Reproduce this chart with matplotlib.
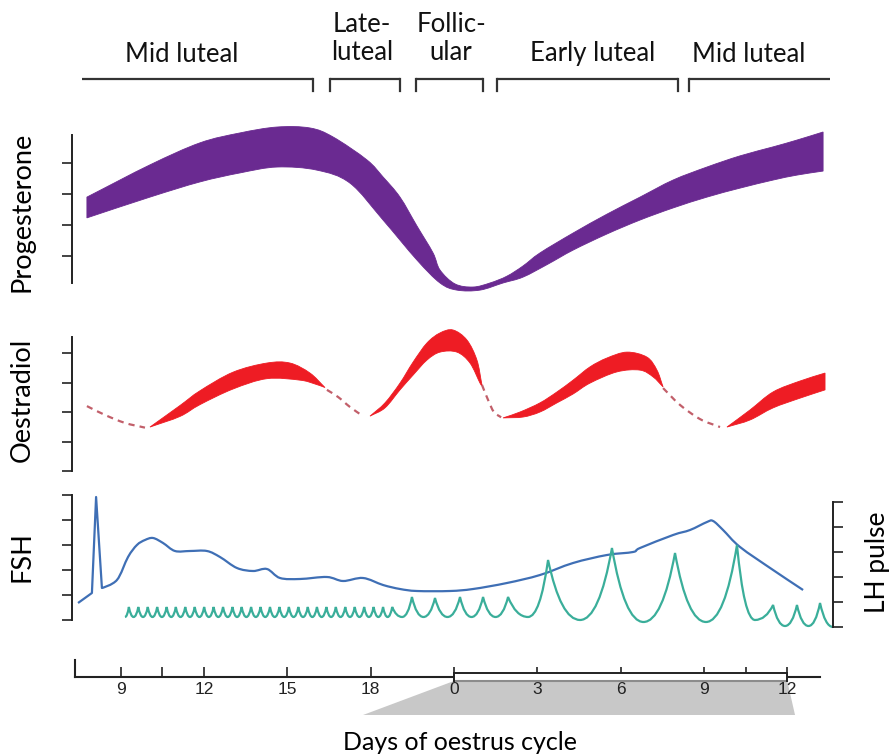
import numpy as np
import matplotlib.pyplot as plt
from matplotlib.path import Path
from matplotlib.patches import PathPatch, Rectangle, Polygon

plt.rcParams['font.family'] = ['Lato', 'DejaVu Sans']

# running day axis: 9..21 = late part of previous cycle, 21 = day 0 of new cycle
tick_pos = [9, 10.5, 12, 15, 18, 21, 24, 27, 30, 31.5, 33]
tick_lab = ["9", "", "12", "15", "18", "0", "3", "6", "9", "", "12"]

phase_names = ["Mid luteal", "Late-\nluteal", "Follic-\nular", "Early luteal", "Mid luteal"]
phase_start = [7.6, 16.55, 19.64, 22.55, 29.46]
phase_end = [15.93, 19.06, 22.05, 29.06, 34.54]

# progesterone band (upper / lower edge)
prog_up_t = [7.79, 10.06, 11.86, 13.30, 14.63, 15.82, 16.65, 17.87, 18.45, 19.06, 19.67, 20.25, 20.50, 21.04,
             21.69, 22.30, 22.91, 23.49, 24.10, 25.29, 26.51, 27.70, 28.89, 30.11, 31.30, 32.49, 33.35, 34.29]
prog_up_v = [2.90, 3.94, 4.65, 4.97, 5.16, 5.13, 4.84, 4.10, 3.55, 2.90, 1.97, 1.10, 0.55, 0.10,
             0.0, 0.13, 0.35, 0.68, 1.10, 1.74, 2.35, 2.90, 3.45, 3.87, 4.23, 4.52, 4.74, 5.0]
prog_lo_t = [7.79, 10.06, 11.86, 13.30, 14.63, 16.07, 17.26, 18.45, 19.67, 20.50, 21.11, 21.94,
             22.77, 23.49, 24.39, 25.29, 26.51, 27.70, 28.89, 30.11, 31.30, 32.49, 33.35, 34.29]
prog_lo_v = [2.23, 2.90, 3.39, 3.68, 3.87, 3.77, 3.35, 2.16, 0.87, 0.13, -0.10, -0.10,
             0.13, 0.32, 0.74, 1.19, 1.71, 2.16, 2.55, 2.90, 3.19, 3.45, 3.61, 3.74]

# oestradiol: dashed (low) stretches and filled bands
oe_dash1_t = [7.79, 8.44, 9.16, 9.88]
oe_dash1_v = [2.20, 1.90, 1.63, 1.47]
oe_dash2_t = [16.43, 16.83, 17.26, 17.73]
oe_dash2_v = [2.75, 2.51, 2.17, 1.86]
oe_dash3_t = [22.01, 22.23, 22.44, 22.70]
oe_dash3_v = [2.92, 2.41, 2.00, 1.82]
oe_dash4_t = [28.53, 29.14, 29.86, 30.58]
oe_dash4_v = [2.81, 2.24, 1.76, 1.49]

oe_b1_up_t = [10.06, 11.14, 11.86, 13.05, 14.27, 15.10, 15.82, 16.36]
oe_b1_up_v = [1.49, 2.22, 2.72, 3.35, 3.66, 3.66, 3.32, 2.83]
oe_b1_lo_t = [10.06, 11.14, 11.86, 13.05, 14.27, 15.46, 16.00, 16.36]
oe_b1_lo_v = [1.49, 1.85, 2.25, 2.78, 3.13, 3.08, 2.95, 2.83]
oe_b2_up_t = [17.98, 18.52, 19.06, 19.53, 20.03, 20.50, 20.97, 21.47, 21.83, 22.01]
oe_b2_up_v = [1.86, 2.31, 2.98, 3.69, 4.34, 4.68, 4.78, 4.44, 3.76, 2.92]
oe_b2_lo_t = [17.98, 18.52, 19.06, 19.53, 20.03, 20.50, 21.11, 21.58, 21.94, 22.01]
oe_b2_lo_v = [1.86, 2.14, 2.75, 3.25, 3.76, 4.03, 4.03, 3.66, 2.98, 2.92]
oe_b3_up_t = [22.77, 23.38, 24.10, 24.71, 25.29, 25.90, 26.51, 27.23, 27.95, 28.31, 28.53]
oe_b3_up_v = [1.80, 2.00, 2.31, 2.68, 3.08, 3.53, 3.83, 4.03, 3.86, 3.42, 2.85]
oe_b3_lo_t = [22.77, 23.49, 24.10, 24.71, 25.29, 25.90, 26.87, 27.70, 28.17, 28.53]
oe_b3_lo_v = [1.80, 1.83, 2.00, 2.31, 2.61, 2.98, 3.36, 3.42, 3.19, 2.85]
oe_b4_up_t = [30.83, 31.66, 32.49, 33.46, 34.36]
oe_b4_up_v = [1.49, 2.07, 2.68, 3.05, 3.32]
oe_b4_lo_t = [30.83, 31.66, 32.49, 33.46, 34.36]
oe_b4_lo_v = [1.49, 1.73, 2.14, 2.47, 2.75]

# FSH
fsh_t = [7.47, 7.97, 8.12, 8.33, 8.87, 9.27, 9.59, 9.88, 10.17, 10.53, 10.96, 11.5, 12.11, 12.58,
         13.19, 13.77, 14.27, 14.74, 15.46, 16.43, 17.01, 17.73, 18.45, 19.06, 19.67, 20.86, 21.69,
         22.91, 24.10, 25.29, 26.51, 27.45, 27.70, 28.89, 29.50, 30.11, 30.33, 30.69, 31.30, 32.49, 33.57]
fsh_v = [0.68, 1.08, 4.92, 1.28, 1.60, 2.52, 3.00, 3.20, 3.28, 3.08, 2.76, 2.76, 2.76, 2.52,
         2.08, 1.96, 2.04, 1.68, 1.64, 1.72, 1.56, 1.68, 1.40, 1.24, 1.16, 1.16, 1.24,
         1.48, 1.80, 2.28, 2.60, 2.72, 2.88, 3.40, 3.60, 3.92, 3.96, 3.60, 2.92, 2.00, 1.20]

# LH pulses: peaks (day, level) and the trough level reached before each peak
lh_start = (9.16, 0.4)
lh_end = (34.65, 0.0)
lh_small_t = [9.30, 9.64, 9.98, 10.32, 10.66, 10.99, 11.33, 11.67, 12.01, 12.35, 12.69, 13.03, 13.36,
              13.70, 14.04, 14.38, 14.72, 15.06, 15.40, 15.74, 16.07, 16.41, 16.75, 17.09, 17.43,
              17.77, 18.11, 18.45, 18.78]
lh_small_peak = 0.8
lh_small_trough = 0.4
lh_big_t = [19.49, 20.32, 21.22, 22.05, 22.95, 24.39, 26.69, 28.96, 31.19, 32.49, 33.35, 34.18]
lh_big_v = [1.20, 1.16, 1.20, 1.20, 1.20, 2.68, 3.16, 2.96, 3.28, 0.88, 0.88, 0.96]
lh_big_trough = [0.4, 0.4, 0.4, 0.4, 0.4, 0.4, 0.28, 0.2, 0.2, 0.28, 0.04, 0.04]

# colours
purple = '#6a2a91'
red = '#ee1c24'
dash_col = '#c25f6a'
blue = '#3f6fb5'
teal = '#3aae9a'
ink = '#222222'

W, H = 894, 755
fig = plt.figure(figsize=(W / 100, H / 100), dpi=100)
XL, XR = 72, 833
xlim = (7.253, 34.647)


def panel(top, bottom):
    ax = fig.add_axes([XL / W, 1 - bottom / H, (XR - XL) / W, (bottom - top) / H])
    ax.set_xlim(*xlim)
    ax.patch.set_alpha(0)
    for s in ax.spines.values():
        s.set_visible(False)
    ax.set_xticks([])
    ax.set_yticks([])
    return ax


def left_axis(ax, ticks, lo, hi):
    sp = ax.spines['left']
    sp.set_visible(True)
    sp.set_bounds(lo, hi)
    sp.set_linewidth(1.4)
    sp.set_color(ink)
    ax.set_yticks(ticks)
    ax.tick_params(axis='y', direction='out', length=7, width=1.2, color=ink, labelleft=False)


def smooth(xs, ys, corners=()):
    # Catmull-Rom through the read points, as cubic Bezier path pieces
    P = np.column_stack([xs, ys]).astype(float)
    n = len(P)
    M = np.zeros_like(P)
    for i in range(n):
        if i in corners:
            continue
        a, b = P[max(i - 1, 0)], P[min(i + 1, n - 1)]
        M[i] = (b - a) / (2.0 if 0 < i < n - 1 else 1.0)
    verts = [tuple(P[0])]
    codes = [Path.MOVETO]
    for i in range(n - 1):
        verts += [tuple(P[i] + M[i] / 3), tuple(P[i + 1] - M[i + 1] / 3), tuple(P[i + 1])]
        codes += [Path.CURVE4] * 3
    return verts, codes


def band(ax, ut, uv, lt, lv, color):
    vu, cu = smooth(ut, uv)
    vl, cl = smooth(lt[::-1], lv[::-1])
    cl[0] = Path.LINETO
    verts = vu + vl + [vu[0]]
    codes = cu + cl + [Path.CLOSEPOLY]
    ax.add_patch(PathPatch(Path(verts, codes), fc=color, ec=color, lw=0.6))


def curve(ax, xs, ys, corners=(), **kw):
    v, c = smooth(xs, ys, corners)
    ax.add_patch(PathPatch(Path(v, c), fill=False, **kw))


# --- phase brackets on top ---
ax_top = panel(0, 115)
ax_top.set_ylim(115, 0)
label_x = [11.2, 17.7, 20.9, 26.0, 31.6]
label_y = [54, 38.5, 38.5, 54, 54]
for i, name in enumerate(phase_names):
    a, b = phase_start[i], phase_end[i]
    ax_top.plot([a, b], [79, 79], color='#333333', lw=1.6, solid_capstyle='butt')
    if i > 0:
        ax_top.plot([a, a], [79, 91], color='#333333', lw=1.6)
    if i < len(phase_names) - 1:
        ax_top.plot([b, b], [79, 91], color='#333333', lw=1.6)
    ax_top.text(label_x[i], label_y[i], name, ha='center', va='center', fontsize=18.5,
                linespacing=1.15, color='#111111')

# --- progesterone ---
ax_p = panel(120, 300)
ax_p.set_ylim(-0.419, 5.387)
left_axis(ax_p, [1, 2, 3, 4], 0.13, 4.9)
band(ax_p, prog_up_t, prog_up_v, prog_lo_t, prog_lo_v, purple)

# --- oestradiol ---
ax_o = panel(320, 480)
ax_o.set_ylim(-0.305, 5.119)
left_axis(ax_o, [0, 1, 2, 3, 4], 0, 4.54)
for t, v in [(oe_dash1_t, oe_dash1_v), (oe_dash2_t, oe_dash2_v),
             (oe_dash3_t, oe_dash3_v), (oe_dash4_t, oe_dash4_v)]:
    curve(ax_o, t, v, ec=dash_col, lw=1.6, ls=(0, (2.8, 2.3)))
band(ax_o, oe_b1_up_t, oe_b1_up_v, oe_b1_lo_t, oe_b1_lo_v, red)
band(ax_o, oe_b2_up_t, oe_b2_up_v, oe_b2_lo_t, oe_b2_lo_v, red)
band(ax_o, oe_b3_up_t, oe_b3_up_v, oe_b3_lo_t, oe_b3_lo_v, red)
band(ax_o, oe_b4_up_t, oe_b4_up_v, oe_b4_lo_t, oe_b4_lo_v, red)

# --- FSH and LH ---
ax_f = panel(485, 635)
ax_f.set_ylim(-0.6, 5.4)
left_axis(ax_f, [0, 1, 2, 3, 4, 5], 0, 5)
curve(ax_f, fsh_t, fsh_v, corners=(1, 2, 3), ec=blue, lw=1.6, joinstyle='round')

ax_l = ax_f.twinx()
ax_l.set_xlim(*xlim)
ax_l.set_ylim(-0.32, 5.68)
for s in ax_l.spines.values():
    s.set_visible(False)
sp = ax_l.spines['right']
sp.set_visible(True)
sp.set_bounds(0, 5)
sp.set_linewidth(1.4)
sp.set_color(ink)
ax_l.set_yticks([0, 1, 2, 3, 4, 5])
ax_l.tick_params(axis='y', direction='out', length=7, width=1.2, color=ink, labelright=False)

pk_t = lh_small_t + lh_big_t
pk_v = [lh_small_peak] * len(lh_small_t) + lh_big_v
tr_v = [lh_small_trough] * (len(lh_small_t) - 1) + lh_big_trough
verts = [lh_start]
codes = [Path.MOVETO]
prev = lh_start
for i in range(len(pk_t)):
    p = (pk_t[i], pk_v[i])
    # rise from trough to peak
    verts += [(prev[0] + 0.6 * (p[0] - prev[0]), prev[1]), p]
    codes += [Path.CURVE3, Path.CURVE3]
    if i + 1 < len(pk_t):
        nxt = ((pk_t[i] + pk_t[i + 1]) / 2, tr_v[i])
    else:
        nxt = lh_end
    # fall from peak to the next trough
    verts += [(p[0] + 0.4 * (nxt[0] - p[0]), nxt[1]), nxt]
    codes += [Path.CURVE3, Path.CURVE3]
    prev = nxt
ax_l.add_patch(PathPatch(Path(verts, codes), fill=False, ec=teal, lw=1.6))

# --- day axis ---
ax_b = panel(640, 755)
ax_b.set_ylim(755, 640)
sp = ax_b.spines['bottom']
sp.set_visible(True)
sp.set_position(('data', 677))
sp.set_bounds(7.36, 34.18)
sp.set_linewidth(1.5)
sp.set_color(ink)
ax_b.set_xticks(tick_pos)
ax_b.set_xticklabels(tick_lab, family=['Liberation Sans Narrow', 'Liberation Sans'], fontsize=12.5,
                     color='#222222')
ax_b.tick_params(axis='x', direction='in', length=7, width=1.2, color=ink, pad=3.5)
ax_b.plot([7.36, 7.36], [660, 677], color=ink, lw=1.5)
ax_b.add_patch(Polygon([(17.73, 715), (21, 681), (33, 681), (33.28, 715)], closed=True,
                       fc='#c8c8c8', ec='none', zorder=1))
ax_b.add_patch(Rectangle((21, 673), 12, 8, fc='white', ec='none', zorder=3))
ax_b.plot([21, 33], [673, 673], color=ink, lw=1.4, zorder=4)
ax_b.plot([21, 33], [681, 681], color='#8c8c8c', lw=1.5, zorder=4)
ax_b.plot([21, 21], [673, 681], color=ink, lw=1.4, zorder=4)
ax_b.plot([33, 33], [673, 681], color=ink, lw=1.4, zorder=4)

# axis titles
fig.text(22 / W, 1 - 212 / H, "Progesterone", rotation=90, ha='center', va='center', fontsize=19.5)
fig.text(22 / W, 1 - 400 / H, "Oestradiol", rotation=90, ha='center', va='center', fontsize=19.5)
fig.text(22 / W, 1 - 557 / H, "FSH", rotation=90, ha='center', va='center', fontsize=19.5)
fig.text(878 / W, 1 - 562 / H, "LH pulse", rotation=90, ha='center', va='center', fontsize=19)
fig.text(460 / W, 1 - 742 / H, "Days of oestrus cycle", ha='center', va='center', fontsize=18)

fig.savefig("out.png", dpi=100)
